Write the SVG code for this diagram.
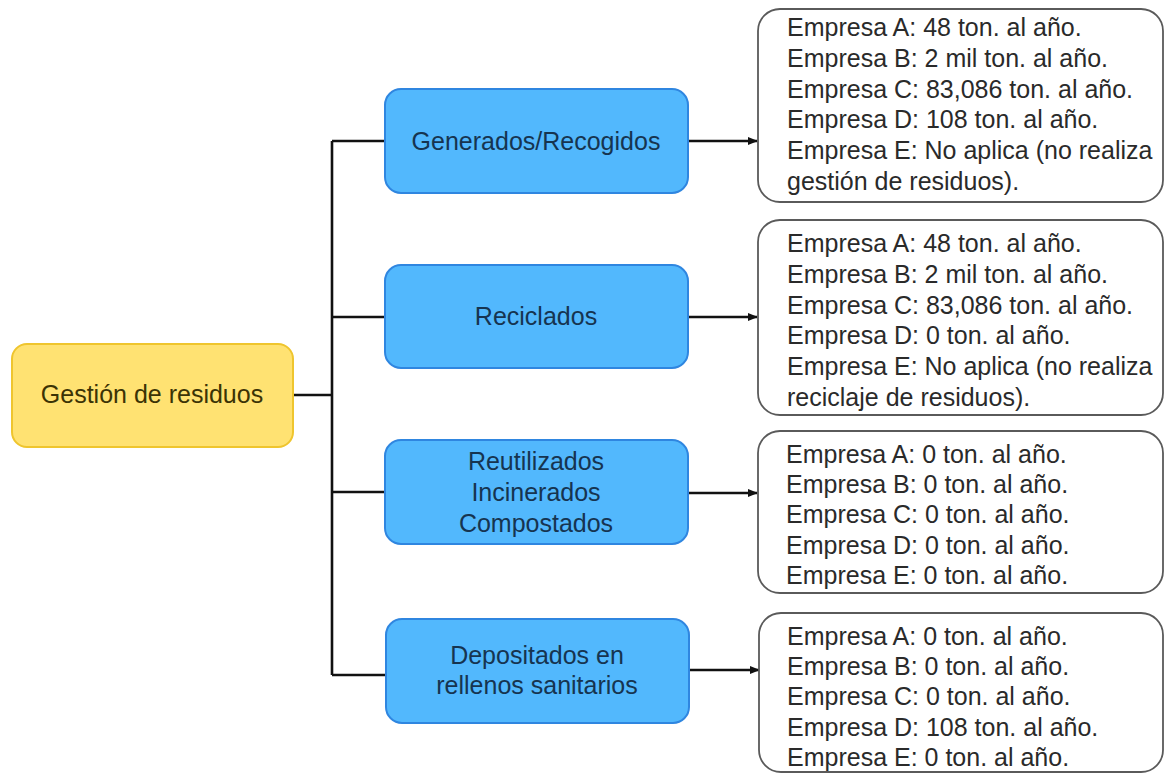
<svg xmlns="http://www.w3.org/2000/svg" width="1165" height="774" viewBox="0 0 1165 774">
<style>
.root rect{fill:#ffe272;stroke:#efc52e;stroke-width:2}
.cat rect{fill:#52b8fd;stroke:#2f86e0;stroke-width:2}
.info rect{fill:#ffffff;stroke:#5a5a5a;stroke-width:1.8}
text{font-family:"Liberation Sans",Arial,sans-serif}
.root text{font-size:25px;fill:#3b3305;text-anchor:middle}
.cat text{font-size:25px;fill:#163450;text-anchor:middle}
.info text{font-size:25px;fill:#2a2a2a}
.conn{stroke:#111111;stroke-width:2.6;fill:none}
</style>
<defs>
<marker id="arr" viewBox="0 0 10 10" refX="9" refY="5" markerWidth="4" markerHeight="4" orient="auto" markerUnits="strokeWidth">
<path d="M0,1 L10,5 L0,9 z" fill="#111111"/>
</marker>
</defs>
<rect width="1165" height="774" fill="#ffffff"/>
<g id="connectors">
<path class="conn" d="M293,395 H332"/>
<path class="conn" d="M332,141 V675"/>
<path class="conn" d="M332,141 H385"/>
<path class="conn" d="M332,317 H385"/>
<path class="conn" d="M332,492 H385"/>
<path class="conn" d="M332,675 H386"/>
<path class="conn" d="M688,141 H757" marker-end="url(#arr)"/>
<path class="conn" d="M688,317 H757" marker-end="url(#arr)"/>
<path class="conn" d="M688,493 H757" marker-end="url(#arr)"/>
<path class="conn" d="M689,670 H759" marker-end="url(#arr)"/>
</g>
<g id="root" class="root">
<rect x="12" y="344" width="281" height="103" rx="15"/>
<text x="152" y="403">Gestión de residuos</text>
</g>
<g id="cat1" class="cat">
<rect x="385" y="89" width="303" height="104" rx="16"/>
<text x="536" y="150">Generados/Recogidos</text>
</g>
<g id="cat2" class="cat">
<rect x="385" y="265" width="303" height="103" rx="16"/>
<text x="536" y="325">Reciclados</text>
</g>
<g id="cat3" class="cat">
<rect x="385" y="440" width="303" height="104" rx="16"/>
<text x="536" y="470">Reutilizados</text>
<text x="536" y="501">Incinerados</text>
<text x="536" y="532">Compostados</text>
</g>
<g id="cat4" class="cat">
<rect x="386" y="619" width="303" height="104" rx="16"/>
<text x="537" y="664">Depositados en</text>
<text x="537" y="694">rellenos sanitarios</text>
</g>
<g id="info1" class="info">
<rect x="758" y="9" width="405" height="193" rx="22"/>
<text x="787" y="36">Empresa A: 48 ton. al año.</text>
<text x="787" y="67">Empresa B: 2 mil ton. al año.</text>
<text x="787" y="98">Empresa C: 83,086 ton. al año.</text>
<text x="787" y="128">Empresa D: 108 ton. al año.</text>
<text x="787" y="159">Empresa E: No aplica (no realiza</text>
<text x="787" y="190">gestión de residuos).</text>
</g>
<g id="info2" class="info">
<rect x="758" y="220" width="405" height="195" rx="22"/>
<text x="787" y="252">Empresa A: 48 ton. al año.</text>
<text x="787" y="283">Empresa B: 2 mil ton. al año.</text>
<text x="787" y="314">Empresa C: 83,086 ton. al año.</text>
<text x="787" y="344">Empresa D: 0 ton. al año.</text>
<text x="787" y="375">Empresa E: No aplica (no realiza</text>
<text x="787" y="406">reciclaje de residuos).</text>
</g>
<g id="info3" class="info">
<rect x="758" y="431" width="405" height="162" rx="22"/>
<text x="786" y="463">Empresa A: 0 ton. al año.</text>
<text x="786" y="493">Empresa B: 0 ton. al año.</text>
<text x="786" y="523">Empresa C: 0 ton. al año.</text>
<text x="786" y="554">Empresa D: 0 ton. al año.</text>
<text x="786" y="584">Empresa E: 0 ton. al año.</text>
</g>
<g id="info4" class="info">
<rect x="759" y="613" width="404" height="159" rx="22"/>
<text x="787" y="645">Empresa A: 0 ton. al año.</text>
<text x="787" y="675">Empresa B: 0 ton. al año.</text>
<text x="787" y="705">Empresa C: 0 ton. al año.</text>
<text x="787" y="736">Empresa D: 108 ton. al año.</text>
<text x="787" y="766">Empresa E: 0 ton. al año.</text>
</g>
</svg>
